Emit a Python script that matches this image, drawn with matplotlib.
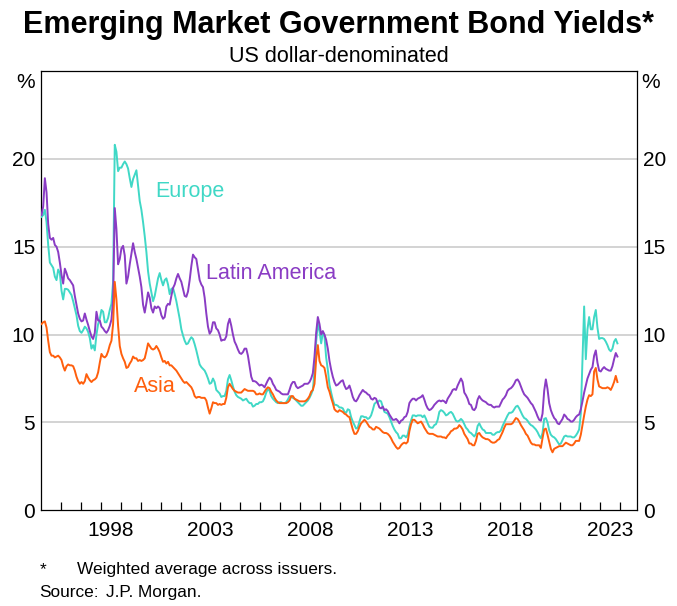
import matplotlib
matplotlib.use("Agg")
import matplotlib.pyplot as plt
import numpy as np
import pandas as pd

plt.rcParams['font.family'] = ['Liberation Sans', 'DejaVu Sans']

# ---------------- data (monthly, Jan 1995 - Nov 2023) ----------------
start_month = "1995-01"

europe = [
    16.7, 16.8, 17.1, 16.4, 15.1, 14.1, 13.95, 13.8, 13.3, 13.1, 13.7, 13.5,   # 1995
    12.5, 12.0, 12.6, 12.6, 12.55, 12.4, 12.25, 11.9, 11.5, 11.1, 10.5, 10.2,  # 1996
    10.1, 10.25, 10.45, 10.35, 10.15, 9.8, 9.2, 9.4, 9.1, 10.0, 10.6, 10.9,    # 1997
    11.4, 11.3, 10.7, 10.7, 10.95, 11.4, 11.75, 13.0, 20.8, 20.4, 19.3, 19.5,  # 1998
    19.5, 19.7, 19.85, 19.7, 19.45, 18.9, 18.4, 18.85, 19.1, 19.35, 18.5, 17.6,  # 1999
    17.1, 16.4, 15.6, 14.7, 13.6, 12.9, 12.4, 11.9, 12.2, 12.7, 13.2, 13.5,    # 2000
    13.1, 12.8, 13.1, 13.2, 12.85, 12.3, 12.6, 12.65, 12.3, 11.9, 11.4, 10.9,  # 2001
    10.3, 9.95, 9.65, 9.45, 9.5, 9.7, 9.85, 9.75, 9.45, 9.1, 8.7, 8.3,         # 2002
    8.15, 8.05, 7.95, 7.75, 7.5, 7.2, 7.25, 7.5, 7.3, 6.85, 6.75, 6.65,        # 2003
    6.45, 6.5, 6.5, 6.8, 7.45, 7.7, 7.4, 7.05, 6.75, 6.55, 6.45, 6.4,          # 2004
    6.35, 6.25, 6.3, 6.35, 6.2, 6.1, 6.1, 5.9, 5.95, 6.05, 6.05, 6.15,         # 2005
    6.15, 6.2, 6.4, 6.7, 6.9, 6.8, 6.5, 6.35, 6.25, 6.15, 6.1, 6.15,           # 2006
    6.15, 6.1, 6.1, 6.15, 6.3, 6.5, 6.45, 6.4, 6.35, 6.25, 6.15, 6.05,         # 2007
    5.95, 5.95, 6.05, 6.15, 6.25, 6.4, 6.6, 6.85, 7.9, 9.6, 10.65, 10.2,       # 2008
    9.5, 10.1, 9.9, 8.7, 8.0, 7.15, 6.7, 6.3, 6.0, 6.0, 5.95, 5.85,            # 2009
    5.85, 5.8, 5.6, 5.55, 5.75, 5.7, 5.3, 5.05, 4.85, 4.65, 4.7, 5.05,         # 2010
    5.35, 5.35, 5.3, 5.3, 5.2, 5.25, 5.4, 5.7, 6.05, 6.15, 6.15, 6.25,         # 2011
    6.2, 5.9, 5.6, 5.55, 5.5, 5.3, 5.05, 4.8, 4.6, 4.45, 4.35, 4.1,            # 2012
    4.1, 4.25, 4.25, 4.15, 4.3, 4.75, 5.1, 5.4, 5.4, 5.35, 5.4, 5.4,           # 2013
    5.4, 5.3, 5.4, 5.2, 4.95, 4.75, 4.7, 4.7, 4.85, 4.9, 5.15, 5.6,            # 2014
    5.7, 5.65, 5.55, 5.4, 5.45, 5.55, 5.6, 5.5, 5.3, 5.1, 5.05, 5.1,           # 2015
    5.2, 5.1, 4.9, 4.7, 4.6, 4.45, 4.4, 4.3, 4.2, 4.35, 4.8, 4.95,             # 2016
    4.75, 4.6, 4.55, 4.4, 4.4, 4.4, 4.4, 4.3, 4.3, 4.4, 4.45, 4.45,            # 2017
    4.55, 4.8, 5.0, 5.2, 5.4, 5.55, 5.55, 5.6, 5.75, 5.9, 5.95, 5.8,           # 2018
    5.6, 5.4, 5.25, 5.2, 5.1, 4.95, 4.85, 4.8, 4.7, 4.6, 4.45, 4.25,           # 2019
    4.1, 4.4, 5.2, 5.25, 5.0, 4.55, 4.3, 4.2, 4.15, 4.05, 3.9, 3.75,           # 2020
    3.8, 4.0, 4.2, 4.25, 4.2, 4.2, 4.2, 4.15, 4.15, 4.25, 4.4, 4.6,            # 2021
    5.5, 8.5, 11.6, 8.6, 10.3, 11.0, 10.3, 10.3, 11.0, 11.4, 10.4, 9.75,       # 2022
    9.8, 9.8, 9.75, 9.6, 9.4, 9.15, 9.05, 9.2, 9.6, 9.75, 9.5,                 # 2023
]

latin_america = [
    16.8, 17.3, 18.9, 18.1, 16.3, 15.5, 15.4, 15.5, 15.1, 15.0, 14.7, 14.1,    # 1995
    13.4, 12.9, 13.75, 13.5, 13.2, 13.1, 12.95, 12.8, 12.2, 11.7, 11.2, 10.9,  # 1996
    10.75, 10.8, 11.2, 10.85, 10.55, 10.2, 9.9, 9.75, 10.1, 11.3, 10.8, 10.8,  # 1997
    10.45, 10.35, 10.2, 10.1, 10.25, 10.5, 10.85, 12.0, 17.2, 16.0, 14.0, 14.3,  # 1998
    14.9, 15.05, 14.5, 12.9, 13.3, 14.0, 14.6, 15.2, 14.7, 14.3, 13.8, 13.3,   # 1999
    12.7, 11.7, 11.25, 11.8, 12.4, 12.1, 11.5, 11.25, 11.6, 11.5, 11.6, 11.5,  # 2000
    11.1, 10.9, 11.0, 11.6, 11.75, 11.7, 12.2, 12.65, 12.85, 13.2, 13.45, 13.2,  # 2001
    13.0, 12.6, 12.2, 12.15, 12.45, 13.1, 13.9, 14.55, 14.4, 14.3, 13.7, 13.1,  # 2002
    12.85, 12.7, 12.1, 11.2, 10.45, 10.05, 10.2, 10.7, 10.7, 10.35, 10.25, 10.0,  # 2003
    9.65, 9.7, 9.7, 9.9, 10.6, 10.9, 10.5, 10.0, 9.6, 9.4, 9.15, 8.95,         # 2004
    8.9, 9.0, 9.2, 9.2, 8.8, 8.2, 7.6, 7.35, 7.35, 7.3, 7.2, 7.1,              # 2005
    7.15, 7.1, 7.0, 7.2, 7.4, 7.55, 7.45, 7.2, 7.05, 6.85, 6.8, 6.75,          # 2006
    6.65, 6.6, 6.6, 6.6, 6.6, 6.85, 7.15, 7.3, 7.3, 7.05, 6.95, 7.0,           # 2007
    7.05, 7.1, 7.2, 7.2, 7.2, 7.3, 7.5, 7.8, 8.75, 10.1, 11.0, 10.6,           # 2008
    10.0, 10.2, 10.0, 9.7, 9.2, 8.5, 8.0, 7.6, 7.3, 7.1, 7.15, 7.25,           # 2009
    7.35, 7.4, 7.1, 6.9, 6.95, 7.1, 6.8, 6.45, 6.25, 6.2, 6.35, 6.55,          # 2010
    6.7, 6.85, 6.75, 6.7, 6.6, 6.55, 6.35, 6.3, 6.4, 6.35, 6.1, 5.85,          # 2011
    5.8, 5.9, 5.7, 5.75, 5.65, 5.45, 5.3, 5.15, 5.15, 5.2, 5.1, 4.95,          # 2012
    5.1, 5.15, 5.3, 5.35, 5.6, 6.1, 6.25, 6.35, 6.35, 6.25, 6.35, 6.4,         # 2013
    6.45, 6.55, 6.3, 6.0, 5.8, 5.7, 5.75, 5.85, 6.0, 6.1, 6.2, 6.25,           # 2014
    6.2, 6.25, 6.2, 6.1, 6.35, 6.5, 6.65, 6.85, 6.9, 6.85, 7.1, 7.3,           # 2015
    7.5, 7.3, 6.7, 6.55, 6.35, 6.05, 6.0, 5.75, 5.7, 5.85, 6.3, 6.5,           # 2016
    6.35, 6.25, 6.2, 6.15, 6.05, 6.0, 6.0, 5.9, 5.85, 5.9, 5.9, 5.9,           # 2017
    6.1, 6.3, 6.4, 6.55, 6.8, 6.9, 6.95, 7.05, 7.2, 7.4, 7.45, 7.3,            # 2018
    7.05, 6.8, 6.6, 6.5, 6.4, 6.25, 6.1, 6.0, 5.8, 5.6, 5.35, 5.15,            # 2019
    5.1, 5.5, 6.8, 7.45, 6.9, 6.1, 5.7, 5.45, 5.25, 5.15, 4.95, 4.9,           # 2020
    5.05, 5.2, 5.45, 5.35, 5.2, 5.15, 5.05, 5.05, 5.15, 5.3, 5.4, 5.45,        # 2021
    5.75, 6.2, 6.7, 7.1, 7.5, 7.75, 8.0, 8.15, 8.8, 9.1, 8.4, 7.95,            # 2022
    7.9, 8.05, 8.15, 8.05, 8.0, 7.95, 7.95, 8.2, 8.6, 8.95, 8.75,              # 2023
]

asia = [
    10.6, 10.7, 10.75, 10.4, 9.65, 9.0, 8.8, 8.8, 8.7, 8.75, 8.8, 8.7,         # 1995
    8.55, 8.2, 7.95, 8.2, 8.3, 8.25, 8.25, 8.2, 7.95, 7.6, 7.35, 7.2,          # 1996
    7.3, 7.2, 7.35, 7.75, 7.55, 7.4, 7.3, 7.4, 7.45, 7.55, 7.85, 8.4,          # 1997
    8.9, 8.75, 8.7, 8.8, 9.05, 9.4, 9.65, 10.6, 13.0, 12.0, 10.5, 9.35,        # 1998
    8.9, 8.65, 8.45, 8.1, 8.15, 8.35, 8.5, 8.75, 8.65, 8.65, 8.5, 8.55,        # 1999
    8.5, 8.55, 8.65, 9.05, 9.5, 9.35, 9.2, 9.15, 9.2, 9.35, 9.2, 9.0,          # 2000
    8.7, 8.45, 8.5, 8.35, 8.45, 8.25, 8.25, 8.15, 8.05, 7.95, 7.8, 7.65,       # 2001
    7.5, 7.35, 7.25, 7.3, 7.2, 7.1, 7.0, 6.8, 6.5, 6.4, 6.45, 6.45,            # 2002
    6.4, 6.4, 6.4, 6.25, 5.85, 5.5, 5.8, 6.15, 6.1, 6.1, 6.0, 6.05,            # 2003
    6.0, 6.05, 6.05, 6.4, 7.0, 7.2, 7.05, 6.9, 6.8, 6.75, 6.7, 6.7,            # 2004
    6.7, 6.8, 6.9, 6.85, 6.8, 6.8, 6.8, 6.8, 6.75, 6.6, 6.6, 6.65,             # 2005
    6.6, 6.6, 6.75, 6.9, 7.0, 6.95, 6.75, 6.6, 6.4, 6.25, 6.15, 6.1,           # 2006
    6.1, 6.1, 6.1, 6.1, 6.15, 6.25, 6.5, 6.5, 6.35, 6.3, 6.25, 6.2,            # 2007
    6.2, 6.2, 6.2, 6.25, 6.35, 6.5, 6.75, 6.85, 7.2, 8.6, 9.4, 8.5,            # 2008
    8.25, 8.2, 8.1, 7.6, 7.0, 6.75, 6.4, 6.1, 5.75, 5.65, 5.6, 5.7,            # 2009
    5.65, 5.6, 5.5, 5.45, 5.35, 5.3, 4.95, 4.6, 4.35, 4.35, 4.5, 4.75,         # 2010
    4.95, 5.05, 5.15, 5.05, 4.9, 4.75, 4.7, 4.6, 4.6, 4.75, 4.7, 4.65,         # 2011
    4.55, 4.45, 4.4, 4.4, 4.35, 4.25, 4.1, 3.9, 3.75, 3.6, 3.5, 3.55,          # 2012
    3.7, 3.8, 3.85, 3.8, 3.9, 4.5, 4.9, 5.15, 5.15, 5.05, 4.95, 5.0,           # 2013
    5.05, 4.9, 4.7, 4.55, 4.4, 4.35, 4.35, 4.35, 4.3, 4.25, 4.2, 4.2,          # 2014
    4.2, 4.15, 4.15, 4.1, 4.25, 4.35, 4.5, 4.55, 4.65, 4.65, 4.7, 4.85,        # 2015
    4.75, 4.6, 4.35, 4.2, 4.05, 3.8, 3.8, 3.7, 3.7, 3.95, 4.35, 4.4,           # 2016
    4.25, 4.15, 4.1, 4.05, 4.05, 4.0, 3.9, 3.85, 3.85, 3.9, 4.0, 4.05,         # 2017
    4.25, 4.45, 4.7, 4.9, 4.9, 4.9, 4.9, 4.95, 5.1, 5.25, 5.2, 5.05,           # 2018
    4.85, 4.7, 4.55, 4.35, 4.25, 4.05, 3.85, 3.75, 3.75, 3.7, 3.7, 3.7,        # 2019
    3.55, 4.1, 4.6, 4.65, 4.3, 3.9, 3.5, 3.3, 3.5, 3.55, 3.6, 3.65,            # 2020
    3.65, 3.65, 3.75, 3.85, 3.8, 3.75, 3.7, 3.7, 3.8, 3.95, 3.95, 3.95,        # 2021
    4.3, 4.85, 5.4, 5.9, 6.3, 6.55, 6.5, 6.6, 7.9, 8.1, 7.45, 7.05,            # 2022
    7.0, 6.95, 6.95, 6.95, 7.0, 6.95, 6.85, 7.05, 7.3, 7.65, 7.3,              # 2023
]

year_labels = ["1998", "2003", "2008", "2013", "2018", "2023"]
y_tick_values = [0, 5, 10, 15, 20]

title = "Emerging Market Government Bond Yields*"
subtitle = "US dollar-denominated"
footnote = "Weighted average across issuers."
source = "J.P. Morgan."

# ---------------- plotting ----------------
dates = pd.date_range(start_month, periods=len(europe), freq="MS")
x = dates.year + (dates.month - 0.5) / 12.0

c_eu = "#40D8C6"
c_la = "#8A3CC4"
c_as = "#FF5F0D"

W, H = 677, 606
fig = plt.figure(figsize=(W / 100, H / 100), dpi=100)
L, R, T, B = 40.7, 637.3, 71.0, 510.3
ax = fig.add_axes([L / W, 1 - B / H, (R - L) / W, (B - T) / H])

lw = 1.4
ax.plot(x, europe, color=c_eu, lw=lw, zorder=3)
ax.plot(x, latin_america, color=c_la, lw=lw, zorder=4)
ax.plot(x, asia, color=c_as, lw=lw, zorder=5)

ax.set_xlim(1995.0, 2024.87)
ax.set_ylim(0, 25)

# gridlines
for v in y_tick_values[1:]:
    ax.axhline(v, color="#c8c8c8", lw=1.1, zorder=1)

# y ticks on both sides, no marks
ax.set_yticks(y_tick_values)
ax.set_yticklabels([str(v) for v in y_tick_values])
ax.tick_params(axis="y", which="both", length=0, labelsize=15,
               left=False, right=False, labelleft=True, labelright=True)
ax.tick_params(axis="y", which="both", pad=4)
for t in ax.yaxis.get_major_ticks():
    t.set_pad(4)
    t.label2.set_x(1.0)
ax.yaxis.set_tick_params(which="major", pad=4)

# x ticks: year marks inward, labels at mid-year
first_tick = int(np.ceil(ax.get_xlim()[0] + 0.01))
ax.set_xticks(np.arange(first_tick, 2025))
ax.set_xticklabels([])
ax.tick_params(axis="x", which="major", direction="in", length=5.5, width=0.9,
               bottom=True, top=False, color="black")
ax.set_xticks([int(s) + 0.5 for s in year_labels], minor=True)
ax.set_xticklabels(year_labels, minor=True)
ax.tick_params(axis="x", which="minor", length=0, labelsize=15, pad=7.5)

for s in ax.spines.values():
    s.set_linewidth(0.9)
    s.set_color("black")

# % labels
ax.text(-0.0095, 24.35, "%", transform=ax.get_yaxis_transform(), ha="right",
        va="center", fontsize=15)
ax.text(1.006, 24.35, "%", transform=ax.get_yaxis_transform(), ha="left",
        va="center", fontsize=15)

# series labels
ax.text(2000.72, 17.82, "Europe", color=c_eu, fontsize=15.5, ha="left", va="baseline")
ax.text(2003.3, 13.18, "Latin America", color=c_la, fontsize=15.5, ha="left", va="baseline")
ax.text(1999.67, 6.74, "Asia", color=c_as, fontsize=15.5, ha="left", va="baseline")

# titles
fig.text(338 / W, 1 - 33.5 / H, title, ha="center", va="baseline", fontsize=22,
         fontweight="bold")
fig.text(338.6 / W, 1 - 62 / H, subtitle, ha="center", va="baseline", fontsize=15.5)

# footnotes
fs_note = 12.4
fig.text(39.3 / W, 1 - 574 / H, "*", ha="left", va="baseline", fontsize=fs_note)
fig.text(77.3 / W, 1 - 574 / H, footnote, ha="left", va="baseline", fontsize=fs_note)
fig.text(39.3 / W, 1 - 596.7 / H, "Source:", ha="left", va="baseline", fontsize=fs_note)
fig.text(106 / W, 1 - 596.7 / H, source, ha="left", va="baseline", fontsize=fs_note)

fig.savefig("out.png", dpi=100)
